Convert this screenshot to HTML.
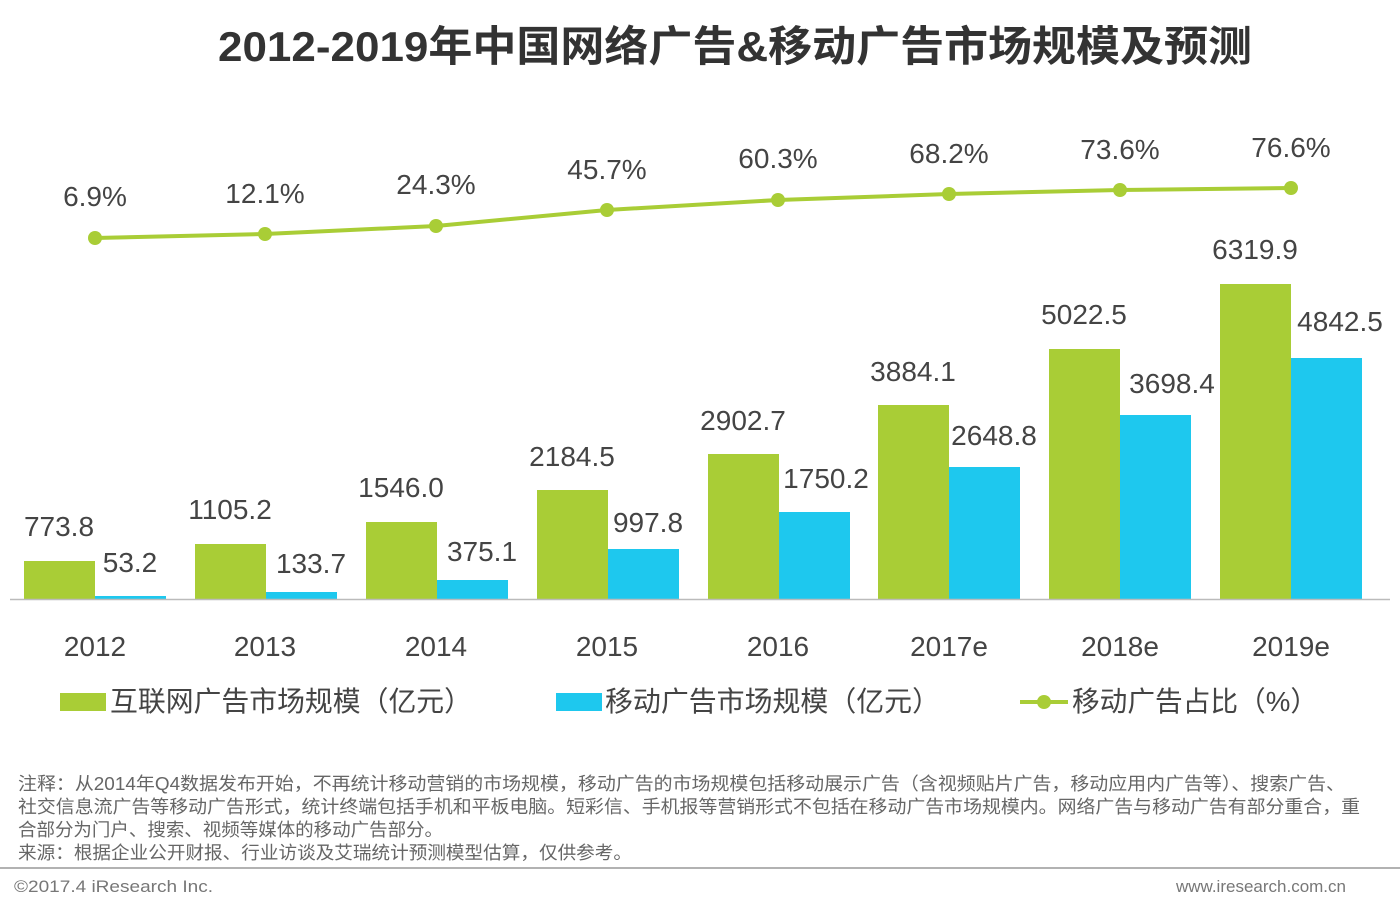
<!DOCTYPE html>
<html><head><meta charset="utf-8"><style>
html,body{margin:0;padding:0;background:#fff;}
svg{display:block;font-family:"Liberation Sans","Noto Sans CJK SC",sans-serif;}
</style></head><body>
<svg width="1400" height="907" viewBox="0 0 1400 907" xmlns="http://www.w3.org/2000/svg">
<rect width="1400" height="907" fill="#fff"/>
<text x="218" y="61" font-size="42" font-weight="bold" fill="#333" textLength="1034" lengthAdjust="spacingAndGlyphs">2012-2019年中国网络广告&amp;移动广告市场规模及预测</text>
<g fill="#a9cd36">
<rect x="24" y="561" width="71" height="38"/>
<rect x="195" y="544" width="71" height="55"/>
<rect x="366" y="522" width="71" height="77"/>
<rect x="537" y="490" width="71" height="109"/>
<rect x="708" y="454" width="71" height="145"/>
<rect x="878" y="405" width="71" height="194"/>
<rect x="1049" y="349" width="71" height="250"/>
<rect x="1220" y="284" width="71" height="315"/>
</g>
<g fill="#1ec8ee">
<rect x="95" y="596" width="71" height="3"/>
<rect x="266" y="592" width="71" height="7"/>
<rect x="437" y="580" width="71" height="19"/>
<rect x="608" y="549" width="71" height="50"/>
<rect x="779" y="512" width="71" height="87"/>
<rect x="949" y="467" width="71" height="132"/>
<rect x="1120" y="415" width="71" height="184"/>
<rect x="1291" y="358" width="71" height="241"/>
</g>
<line x1="10" y1="599.5" x2="1390" y2="599.5" stroke="#bbb" stroke-width="1.5"/>
<g font-size="28" fill="#444" text-anchor="middle">
<text x="59" y="536">773.8</text><text x="130" y="572">53.2</text>
<text x="230" y="519">1105.2</text><text x="311" y="573">133.7</text>
<text x="401" y="497">1546.0</text><text x="482" y="561">375.1</text>
<text x="572" y="466">2184.5</text><text x="648" y="532">997.8</text>
<text x="743" y="430">2902.7</text><text x="826" y="488">1750.2</text>
<text x="913" y="381">3884.1</text><text x="994" y="445">2648.8</text>
<text x="1084" y="324">5022.5</text><text x="1172" y="393">3698.4</text>
<text x="1255" y="259">6319.9</text><text x="1340" y="331">4842.5</text>
<text x="95" y="206">6.9%</text><text x="265" y="203">12.1%</text>
<text x="436" y="194">24.3%</text><text x="607" y="179">45.7%</text>
<text x="778" y="168">60.3%</text><text x="949" y="163">68.2%</text>
<text x="1120" y="159">73.6%</text><text x="1291" y="157">76.6%</text>
<text x="95" y="656">2012</text><text x="265" y="656">2013</text>
<text x="436" y="656">2014</text><text x="607" y="656">2015</text>
<text x="778" y="656">2016</text><text x="949" y="656">2017e</text>
<text x="1120" y="656">2018e</text><text x="1291" y="656">2019e</text>
</g>
<polyline points="95,238 265,234 436,226 607,210 778,200 949,194 1120,190 1291,188" fill="none" stroke="#a9cd36" stroke-width="4"/>
<g fill="#a9cd36">
<circle cx="95" cy="238" r="7"/><circle cx="265" cy="234" r="7"/><circle cx="436" cy="226" r="7"/><circle cx="607" cy="210" r="7"/>
<circle cx="778" cy="200" r="7"/><circle cx="949" cy="194" r="7"/><circle cx="1120" cy="190" r="7"/><circle cx="1291" cy="188" r="7"/>
</g>
<rect x="60" y="693" width="46" height="18" fill="#a9cd36"/>
<text x="110" y="711" font-size="28" fill="#444" textLength="362" lengthAdjust="spacingAndGlyphs">互联网广告市场规模（亿元）</text>
<rect x="556" y="693" width="46" height="18" fill="#1ec8ee"/>
<text x="605" y="711" font-size="28" fill="#444" textLength="335" lengthAdjust="spacingAndGlyphs">移动广告市场规模（亿元）</text>
<line x1="1020" y1="702" x2="1068" y2="702" stroke="#a9cd36" stroke-width="4"/>
<circle cx="1044" cy="702" r="7" fill="#a9cd36"/>
<text x="1072" y="711" font-size="28" fill="#444" textLength="246" lengthAdjust="spacingAndGlyphs">移动广告占比（%）</text>
<g font-size="18" fill="#666" lengthAdjust="spacingAndGlyphs">
<text x="18" y="790" textLength="1327" lengthAdjust="spacingAndGlyphs">注释：从2014年Q4数据发布开始，不再统计移动营销的市场规模，移动广告的市场规模包括移动展示广告（含视频贴片广告，移动应用内广告等）、搜索广告、</text>
<text x="18" y="813" textLength="1342" lengthAdjust="spacingAndGlyphs">社交信息流广告等移动广告形式，统计终端包括手机和平板电脑。短彩信、手机报等营销形式不包括在移动广告市场规模内。网络广告与移动广告有部分重合，重</text>
<text x="18" y="836" textLength="425" lengthAdjust="spacingAndGlyphs">合部分为门户、搜索、视频等媒体的移动广告部分。</text>
<text x="18" y="859" textLength="614" lengthAdjust="spacingAndGlyphs">来源：根据企业公开财报、行业访谈及艾瑞统计预测模型估算，仅供参考。</text>
</g>
<line x1="0" y1="868" x2="1400" y2="868" stroke="#999" stroke-width="1.5"/>
<text x="14" y="892" font-size="17" fill="#777" textLength="199" lengthAdjust="spacingAndGlyphs">©2017.4 iResearch Inc.</text>
<text x="1346" y="892" font-size="17" fill="#777" text-anchor="end">www.iresearch.com.cn</text>
</svg>
</body></html>
